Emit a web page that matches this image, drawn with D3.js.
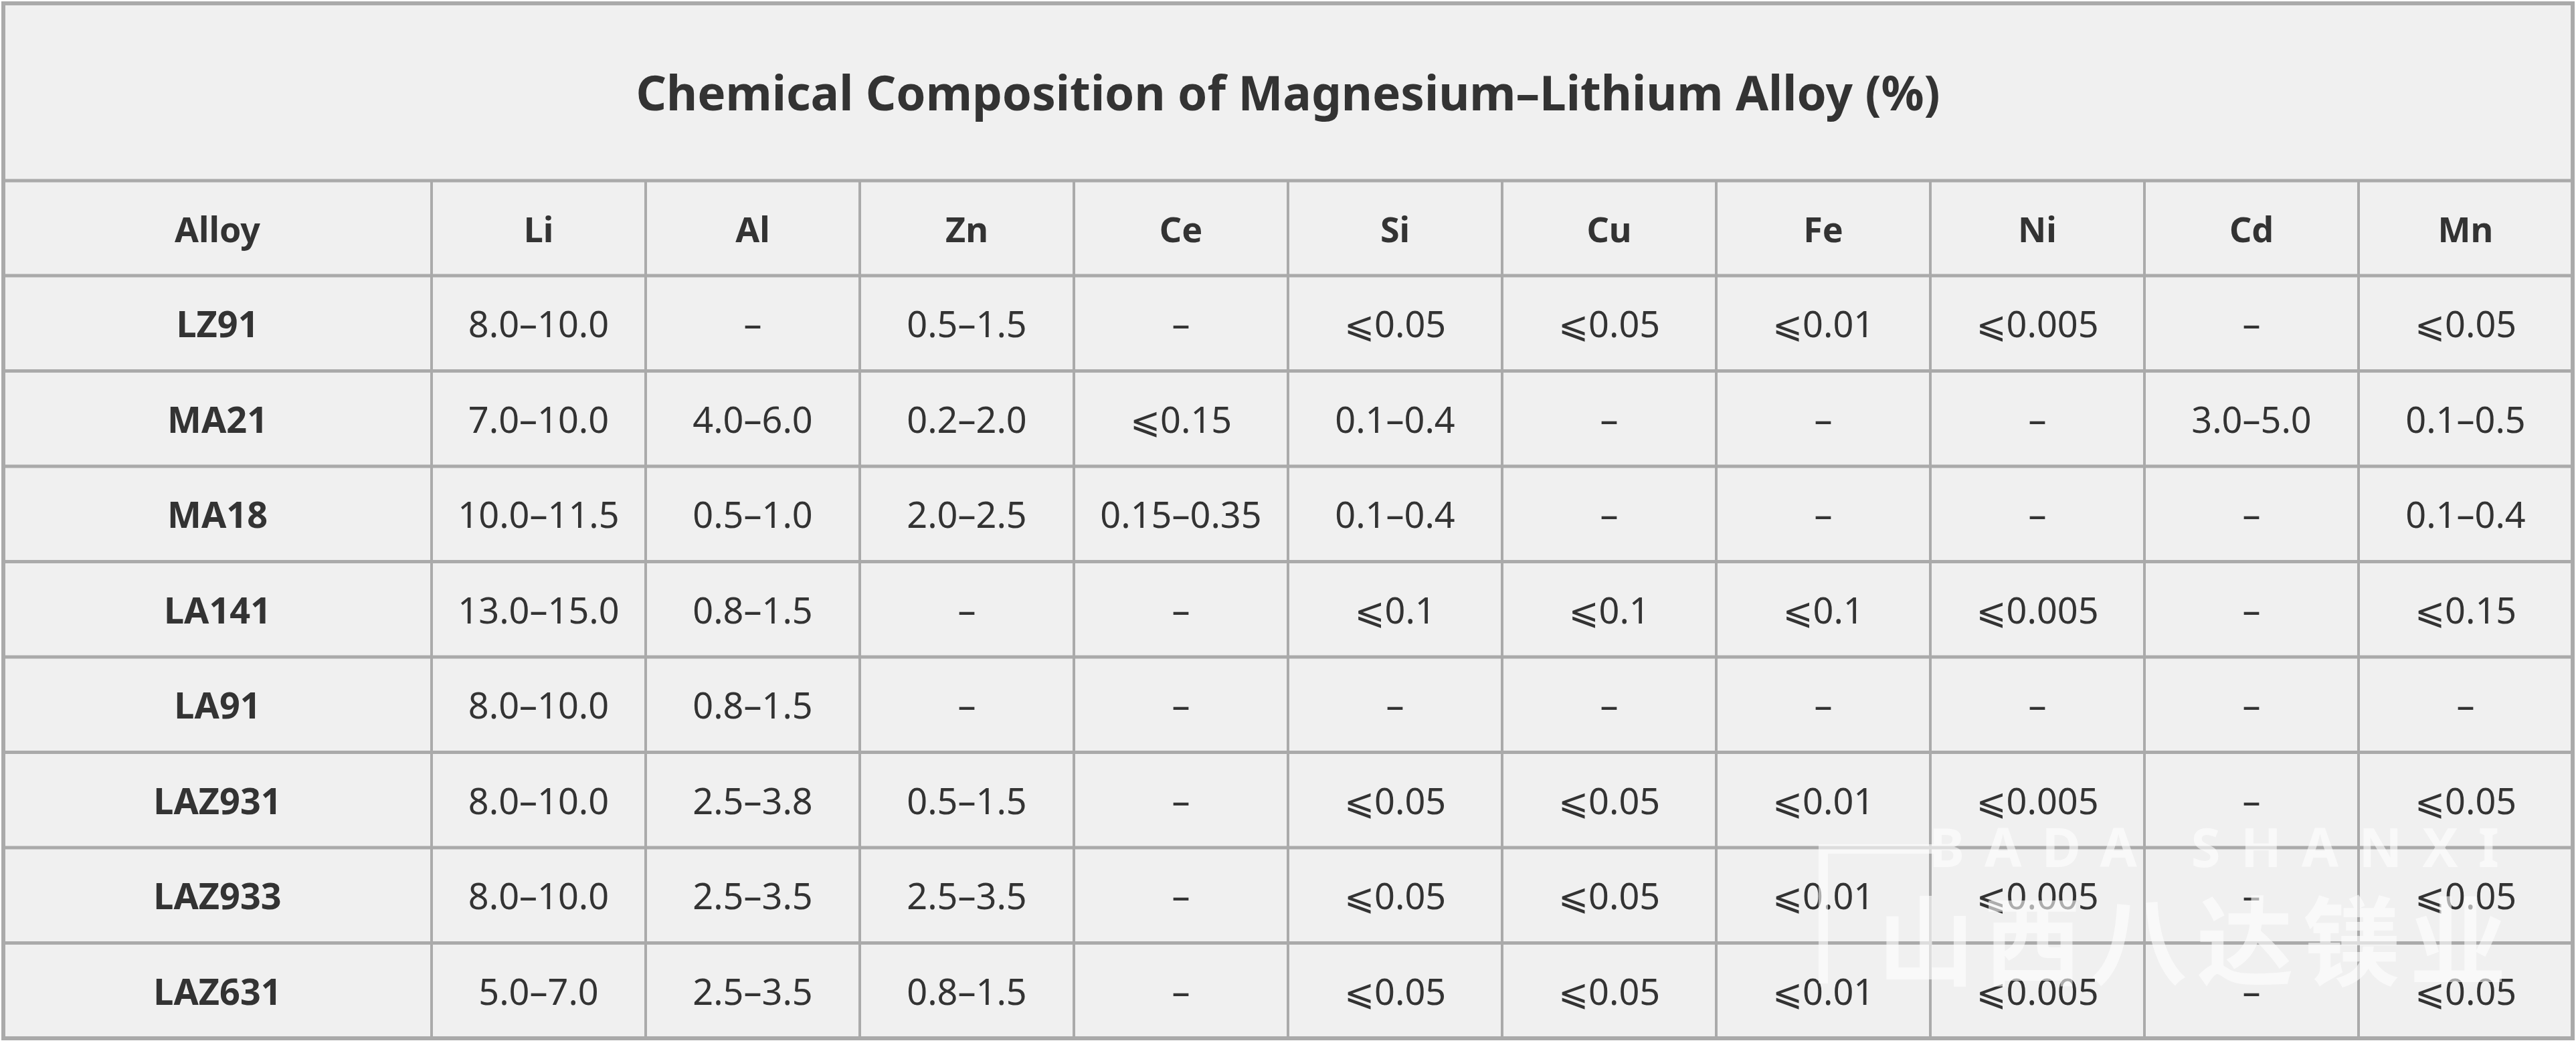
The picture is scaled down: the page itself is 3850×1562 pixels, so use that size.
<!DOCTYPE html>
<html><head><meta charset="utf-8">
<script src="https://cdn.jsdelivr.net/npm/d3@7"></script>
<style>html,body{margin:0;padding:0;background:#fff;}</style>
</head><body><div id="chart"></div>
<script>
const title = "Chemical Composition of Magnesium–Lithium Alloy (%)";
const headers = ["Alloy","Li","Al","Zn","Ce","Si","Cu","Fe","Ni","Cd","Mn"];
const alloys = ["LZ91","MA21","MA18","LA141","LA91","LAZ931","LAZ933","LAZ631"];
const Li = ["8.0–10.0","7.0–10.0","10.0–11.5","13.0–15.0","8.0–10.0","8.0–10.0","8.0–10.0","5.0–7.0"];
const Al = ["–","4.0–6.0","0.5–1.0","0.8–1.5","0.8–1.5","2.5–3.8","2.5–3.5","2.5–3.5"];
const Zn = ["0.5–1.5","0.2–2.0","2.0–2.5","–","–","0.5–1.5","2.5–3.5","0.8–1.5"];
const Ce = ["–","⩽0.15","0.15–0.35","–","–","–","–","–"];
const Si = ["⩽0.05","0.1–0.4","0.1–0.4","⩽0.1","–","⩽0.05","⩽0.05","⩽0.05"];
const Cu = ["⩽0.05","–","–","⩽0.1","–","⩽0.05","⩽0.05","⩽0.05"];
const Fe = ["⩽0.01","–","–","⩽0.1","–","⩽0.01","⩽0.01","⩽0.01"];
const Ni = ["⩽0.005","–","–","⩽0.005","–","⩽0.005","⩽0.005","⩽0.005"];
const Cd = ["–","3.0–5.0","–","–","–","–","–","–"];
const Mn = ["⩽0.05","0.1–0.5","0.1–0.4","⩽0.15","–","⩽0.05","⩽0.05","⩽0.05"];
const columns = [alloys, Li, Al, Zn, Ce, Si, Cu, Fe, Ni, Cd, Mn];

const W = 3850, H = 1562;
const x0 = 5, x1 = 3845, y0 = 5, y1 = 1552;
const titleBottom = 270, headBottom = 412;
const font = "'Noto Sans', 'DejaVu Sans', sans-serif";

const svg = d3.select("#chart").append("svg").attr("width", W).attr("height", H);

// column edges: first column double width
const units = headers.map((h, i) => i === 0 ? 2 : 1);
const cum = [0];
units.forEach(u => cum.push(cum[cum.length - 1] + u));
const x = d3.scaleLinear().domain([0, cum[cum.length - 1]]).range([x0, x1]);
const y = d3.scaleBand().domain(d3.range(alloys.length)).range([headBottom, y1]);

svg.append("rect").attr("x", x0).attr("y", y0).attr("width", x1 - x0).attr("height", y1 - y0)
  .attr("fill", "#f0f0f0");

svg.append("text").attr("x", (x0 + x1) / 2).attr("y", (y0 + titleBottom) / 2)
  .attr("text-anchor", "middle").attr("dominant-baseline", "central")
  .attr("font-family", font).attr("font-weight", "bold").attr("font-size", 71).attr("fill", "#333")
  .text(title);

const grid = svg.append("g").attr("stroke", "#aaaaaa");
grid.selectAll("line.v").data(cum.slice(1, -1)).join("line")
  .attr("x1", d => x(d)).attr("x2", d => x(d)).attr("y1", titleBottom).attr("y2", y1)
  .attr("stroke-width", 4);
const hs = [titleBottom, headBottom].concat(d3.range(1, alloys.length).map(i => y(i)));
grid.selectAll("line.h").data(hs).join("line")
  .attr("x1", x0).attr("x2", x1).attr("y1", d => d).attr("y2", d => d)
  .attr("stroke-width", 5);
grid.append("rect").attr("x", x0).attr("y", y0).attr("width", x1 - x0).attr("height", y1 - y0)
  .attr("fill", "none").attr("stroke-width", 6);

const cx = i => (x(cum[i]) + x(cum[i + 1])) / 2;

svg.append("g").selectAll("text").data(headers).join("text")
  .attr("x", (d, i) => cx(i)).attr("y", (titleBottom + headBottom) / 2)
  .attr("text-anchor", "middle").attr("dominant-baseline", "central")
  .attr("font-family", font).attr("font-weight", "bold").attr("font-size", 52).attr("fill", "#333")
  .text(d => d);

columns.forEach((col, ci) => {
  svg.append("g").selectAll("text").data(col).join("text")
    .attr("x", cx(ci)).attr("y", (d, r) => y(r) + y.bandwidth() / 2)
    .attr("text-anchor", "middle").attr("dominant-baseline", "central")
    .attr("font-family", font).attr("font-weight", ci === 0 ? "bold" : "normal")
    .attr("font-size", 54).attr("fill", "#333")
    .text(d => d);
});

// watermark
const wm = svg.append("g").attr("fill", "#ffffff").attr("opacity", 0.6);
wm.append("path").attr("d", "M2718,1262 H2890 V1276 H2732 V1470 H2718 Z");
wm.append("text").attr("x", 3765).attr("y", 1296).attr("text-anchor", "end")
  .attr("font-family", font).attr("font-weight", "bold").attr("font-size", 80)
  .attr("letter-spacing", 30).text("BADA SHANXI");
wm.append("text").attr("x", 3760).attr("y", 1462).attr("text-anchor", "end")
  .attr("font-family", "'Noto Sans CJK SC'").attr("font-weight", "bold").attr("font-size", 145)
  .attr("letter-spacing", 14).text("山西八达镁业");
</script></body></html>
